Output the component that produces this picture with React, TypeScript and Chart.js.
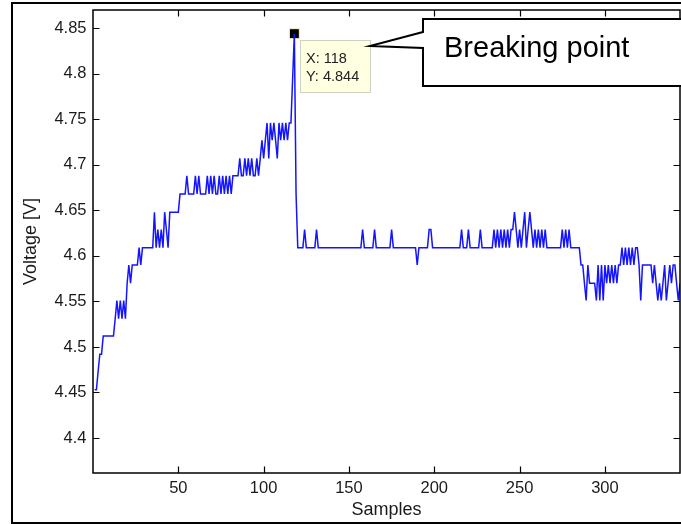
import React, { useEffect, useRef } from "react";
import { Chart, registerables } from "chart.js";

Chart.register(...registerables);

// Voltage per sample (samples 1..344)
const voltage: number[] = [
  // 1-10
  4.453, 4.453, 4.473, 4.492, 4.492, 4.512, 4.512, 4.512, 4.512, 4.512,
  // 11-20
  4.512, 4.512, 4.531, 4.551, 4.531, 4.551, 4.531, 4.551, 4.531, 4.570,
  // 21-30
  4.590, 4.570, 4.590, 4.590, 4.590, 4.590, 4.609, 4.590, 4.609, 4.609,
  // 31-40
  4.609, 4.609, 4.609, 4.609, 4.609, 4.648, 4.609, 4.629, 4.609, 4.629,
  // 41-50
  4.609, 4.648, 4.629, 4.609, 4.648, 4.648, 4.648, 4.648, 4.648, 4.648,
  // 51-60
  4.668, 4.668, 4.668, 4.668, 4.688, 4.668, 4.668, 4.668, 4.668, 4.688,
  // 61-70
  4.668, 4.688, 4.668, 4.668, 4.668, 4.668, 4.688, 4.668, 4.688, 4.668,
  // 71-80
  4.688, 4.668, 4.668, 4.688, 4.668, 4.688, 4.668, 4.688, 4.668, 4.688,
  // 81-90
  4.668, 4.688, 4.688, 4.688, 4.688, 4.707, 4.688, 4.688, 4.707, 4.688,
  // 91-100
  4.707, 4.688, 4.707, 4.688, 4.688, 4.707, 4.688, 4.707, 4.727, 4.707,
  // 101-110
  4.727, 4.746, 4.707, 4.746, 4.727, 4.746, 4.727, 4.707, 4.746, 4.727,
  // 111-120
  4.746, 4.727, 4.746, 4.727, 4.746, 4.746, 4.795, 4.844, 4.668, 4.609,
  // 121-130
  4.609, 4.609, 4.609, 4.629, 4.609, 4.609, 4.609, 4.609, 4.609, 4.609,
  // 131-140
  4.629, 4.609, 4.609, 4.609, 4.609, 4.609, 4.609, 4.609, 4.609, 4.609,
  // 141-150
  4.609, 4.609, 4.609, 4.609, 4.609, 4.609, 4.609, 4.609, 4.609, 4.609,
  // 151-160
  4.609, 4.609, 4.609, 4.609, 4.609, 4.609, 4.609, 4.629, 4.609, 4.609,
  // 161-170
  4.609, 4.609, 4.609, 4.609, 4.629, 4.609, 4.609, 4.609, 4.609, 4.609,
  // 171-180
  4.609, 4.609, 4.609, 4.609, 4.629, 4.609, 4.609, 4.609, 4.609, 4.609,
  // 181-190
  4.609, 4.609, 4.609, 4.609, 4.609, 4.609, 4.609, 4.609, 4.609, 4.590,
  // 191-200
  4.609, 4.609, 4.609, 4.609, 4.609, 4.609, 4.629, 4.629, 4.609, 4.609,
  // 201-210
  4.609, 4.609, 4.609, 4.609, 4.609, 4.609, 4.609, 4.609, 4.609, 4.609,
  // 211-220
  4.609, 4.609, 4.609, 4.609, 4.609, 4.629, 4.609, 4.609, 4.609, 4.629,
  // 221-230
  4.609, 4.609, 4.609, 4.609, 4.609, 4.609, 4.629, 4.609, 4.609, 4.609,
  // 231-240
  4.609, 4.609, 4.609, 4.609, 4.629, 4.609, 4.629, 4.609, 4.629, 4.609,
  // 241-250
  4.629, 4.609, 4.629, 4.609, 4.629, 4.629, 4.648, 4.629, 4.609, 4.629,
  // 251-260
  4.609, 4.629, 4.648, 4.609, 4.629, 4.648, 4.629, 4.609, 4.629, 4.609,
  // 261-270
  4.629, 4.609, 4.629, 4.609, 4.629, 4.609, 4.609, 4.609, 4.609, 4.609,
  // 271-280
  4.609, 4.609, 4.609, 4.609, 4.629, 4.609, 4.629, 4.609, 4.629, 4.609,
  // 281-290
  4.609, 4.609, 4.609, 4.609, 4.609, 4.590, 4.590, 4.570, 4.551, 4.590,
  // 291-300
  4.570, 4.570, 4.570, 4.570, 4.551, 4.590, 4.551, 4.590, 4.551, 4.590,
  // 301-310
  4.570, 4.590, 4.570, 4.590, 4.570, 4.590, 4.570, 4.590, 4.590, 4.609,
  // 311-320
  4.590, 4.609, 4.590, 4.609, 4.590, 4.609, 4.590, 4.609, 4.609, 4.590,
  // 321-330
  4.551, 4.590, 4.590, 4.590, 4.590, 4.590, 4.590, 4.570, 4.590, 4.570,
  // 331-340
  4.551, 4.570, 4.551, 4.570, 4.590, 4.551, 4.570, 4.590, 4.570, 4.590,
  // 341-344
  4.590, 4.570, 4.551, 4.570,
];

const xTickValues: number[] = [50, 100, 150, 200, 250, 300];
const yTickValues: number[] = [4.4, 4.45, 4.5, 4.55, 4.6, 4.65, 4.7, 4.75, 4.8, 4.85];
const xLabel = "Samples";
const yLabel = "Voltage [V]";
const calloutText = "Breaking point";

const FONT = "'Liberation Sans', Arial, Helvetica, sans-serif";

export default function App() {
  const ref = useRef<HTMLCanvasElement | null>(null);

  useEffect(() => {
    document.body.style.margin = "0";
    const canvas = ref.current;
    if (!canvas) return;

    const points = voltage.map((v, i) => ({ x: i + 1, y: v }));
    let peakIdx = 0;
    voltage.forEach((v, i) => {
      if (v > voltage[peakIdx]) peakIdx = i;
    });
    const peak = { x: peakIdx + 1, y: voltage[peakIdx] };

    const framePlugin = {
      id: "matlabFrame",
      afterDraw(chart: any) {
        const { ctx, chartArea: a, scales } = chart;
        const xs = scales.x;
        const ys = scales.y;
        ctx.save();

        // figure border
        ctx.strokeStyle = "#000";
        ctx.lineWidth = 2;
        ctx.strokeRect(12, 3, 700, 520);

        // axes box
        ctx.lineWidth = 1.5;
        ctx.strokeRect(a.left, a.top, a.right - a.left, a.bottom - a.top);

        // inward ticks on all four sides
        const tl = 6.5;
        ctx.lineWidth = 1.2;
        ctx.beginPath();
        xs.ticks.forEach((t: any) => {
          const px = Math.round(xs.getPixelForValue(t.value)) + 0.5;
          ctx.moveTo(px, a.bottom);
          ctx.lineTo(px, a.bottom - tl);
          ctx.moveTo(px, a.top);
          ctx.lineTo(px, a.top + tl);
        });
        ys.ticks.forEach((t: any) => {
          const py = Math.round(ys.getPixelForValue(t.value)) + 0.5;
          ctx.moveTo(a.left, py);
          ctx.lineTo(a.left + tl, py);
          ctx.moveTo(a.right, py);
          ctx.lineTo(a.right - tl, py);
        });
        ctx.stroke();

        // data tip
        const pxp = xs.getPixelForValue(peak.x);
        const pyp = ys.getPixelForValue(peak.y);
        const bx = Math.round(pxp + 6);
        const by = Math.round(pyp + 6);
        const bw = 70;
        const bh = 52;
        ctx.fillStyle = "#ffffe1";
        ctx.fillRect(bx, by, bw, bh);
        ctx.strokeStyle = "#d0d0c0";
        ctx.lineWidth = 1;
        ctx.strokeRect(bx + 0.5, by + 0.5, bw, bh);
        ctx.fillStyle = "#222";
        ctx.font = `14.5px ${FONT}`;
        ctx.textAlign = "left";
        ctx.textBaseline = "alphabetic";
        ctx.fillText(`X: ${peak.x}`, bx + 6, by + 22.5);
        ctx.fillText(`Y: ${peak.y.toFixed(3)}`, bx + 6, by + 41);

        // callout
        const tipX = bx + bw;
        const tipY = by + 6;
        const cl = tipX + 53;
        const ctop = 19;
        const cbot = 86;
        const cright = 760;
        ctx.beginPath();
        ctx.moveTo(cl, 32);
        ctx.lineTo(tipX, tipY);
        ctx.lineTo(cl, 48);
        ctx.lineTo(cl, cbot);
        ctx.lineTo(cright, cbot);
        ctx.lineTo(cright, ctop);
        ctx.lineTo(cl, ctop);
        ctx.closePath();
        ctx.fillStyle = "#fff";
        ctx.fill();
        ctx.strokeStyle = "#000";
        ctx.lineWidth = 2;
        ctx.lineJoin = "miter";
        ctx.stroke();
        ctx.fillStyle = "#000";
        ctx.font = `29px ${FONT}`;
        ctx.fillText(calloutText, cl + 21, 57);

        ctx.restore();
      },
    };

    const noPad = (s: any) => {
      s.paddingTop = 0;
      s.paddingBottom = 0;
      s.paddingLeft = 0;
      s.paddingRight = 0;
    };

    const chart = new Chart(canvas, {
      type: "line",
      data: {
        datasets: [
          {
            data: points,
            borderColor: "#1414ff",
            borderWidth: 1.5,
            pointRadius: 0,
            tension: 0,
            fill: false,
          },
          {
            data: [peak],
            showLine: false,
            pointStyle: "rect",
            pointRadius: 7.07,
            backgroundColor: "#000",
            borderColor: "#fff8c8",
            borderWidth: 1,
            clip: false,
          } as any,
        ],
      },
      options: {
        animation: false,
        responsive: false,
        maintainAspectRatio: false,
        layout: { autoPadding: false, padding: { top: 10, right: 1, left: 0, bottom: 0 } },
        plugins: {
          legend: { display: false },
          tooltip: { enabled: false },
        },
        scales: {
          x: {
            type: "linear",
            min: 0,
            max: 344,
            afterBuildTicks: (s: any) => {
              s.ticks = xTickValues.map((v) => ({ value: v }));
            },
            afterFit: (s: any) => {
              s.height = 51;
              noPad(s);
            },
            grid: { display: false, drawTicks: false },
            border: { display: false },
            ticks: {
              font: { family: FONT, size: 16.5 },
              color: "#1a1a1a",
              padding: 6,
              maxRotation: 0,
              autoSkip: false,
            },
            title: {
              display: true,
              text: xLabel,
              font: { family: FONT, size: 18, lineHeight: 1.2 },
              color: "#1a1a1a",
              padding: { top: 0, bottom: 3 },
            },
          },
          y: {
            type: "linear",
            min: 4.3616,
            max: 4.87,
            afterBuildTicks: (s: any) => {
              s.ticks = yTickValues.map((v) => ({ value: v }));
            },
            afterFit: (s: any) => {
              s.width = 93;
              noPad(s);
            },
            grid: { display: false, drawTicks: false },
            border: { display: false },
            ticks: {
              font: { family: FONT, size: 16.5 },
              color: "#1a1a1a",
              padding: 6.5,
              autoSkip: false,
              callback: (v: any) => String(Number(Number(v).toFixed(2))),
            },
            title: {
              display: true,
              text: yLabel,
              font: { family: FONT, size: 18, lineHeight: 1.2 },
              color: "#1a1a1a",
              padding: { top: 20, bottom: 0 },
            },
          },
        },
      },
      plugins: [framePlugin],
    } as any);

    return () => chart.destroy();
  }, []);

  return (
    <div style={{ width: 681, height: 524, position: "relative", background: "#fff" }}>
      <canvas ref={ref} width={681} height={524} style={{ display: "block", width: 681, height: 524 }} />
    </div>
  );
}
